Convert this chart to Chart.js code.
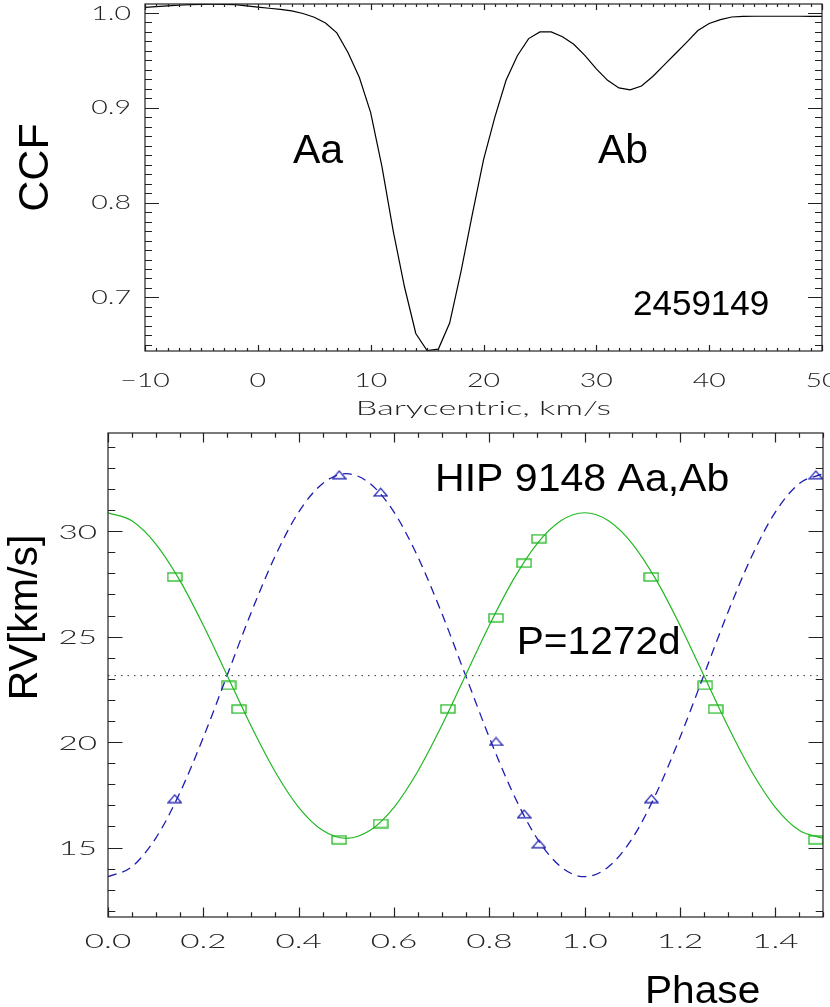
<!DOCTYPE html>
<html>
<head>
<meta charset="utf-8">
<script src="https://cdn.jsdelivr.net/npm/chart.js@4.4.1/dist/chart.umd.min.js"></script>
<style>
  body { margin: 0; background: #fff; width: 830px; height: 1007px; overflow: hidden; position: relative; }
  canvas { position: absolute; left: 0; }
  #ccfChart { top: 0; }
  #rvChart { top: 420px; }
</style>
</head>
<body>
<canvas id="ccfChart" width="830" height="420"></canvas>
<canvas id="rvChart" width="830" height="587"></canvas>
<script>
// CCF of night 2459149 (barycentric velocity, km/s)
const ccfVel = [-10, -9, -8, -7, -6, -5, -4, -3, -2, -1, 0, 1, 2, 3, 4, 5, 6, 7, 8, 9,
  10, 11, 12, 13, 14, 15, 16, 17, 18, 19, 20, 21, 22, 23, 24, 25, 26, 27, 28, 29,
  30, 31, 32, 33, 34, 35, 36, 37, 38, 39, 40, 41, 42, 43, 44, 45, 46, 47, 48, 49, 50];
const ccfVal = [1.0060, 1.0068, 1.0075, 1.0082, 1.0088, 1.0092, 1.0093, 1.0092, 1.0088, 1.0075,
  1.0062, 1.0050, 1.0038, 1.0022, 0.9995, 0.9955, 0.9895, 0.9790, 0.9580, 0.9320,
  0.8950, 0.8380, 0.7700, 0.7110, 0.6620, 0.6440, 0.6455, 0.6730, 0.7270, 0.7870,
  0.8450, 0.8900, 0.9290, 0.9550, 0.9730, 0.9800, 0.9800, 0.9750, 0.9670, 0.9550,
  0.9410, 0.9290, 0.9210, 0.9190, 0.9230, 0.9330, 0.9450, 0.9570, 0.9690, 0.9815,
  0.9890, 0.9930, 0.9958, 0.9965, 0.9966, 0.9966, 0.9966, 0.9966, 0.9966, 0.9965, 0.9965];
const ccfXTicks = [-10, 0, 10, 20, 30, 40, 50];
const ccfYTicks = [0.7, 0.8, 0.9, 1.0];

// HIP 9148 Aa,Ab orbit, P = 1272 d
const phaseGrid = [0, 0.05, 0.1, 0.15, 0.2, 0.25, 0.3, 0.35, 0.4, 0.45, 0.5,
  0.55, 0.6, 0.65, 0.7, 0.75, 0.8, 0.85, 0.9, 0.95, 1.0,
  1.05, 1.1, 1.15, 1.2, 1.25, 1.3, 1.35, 1.4, 1.45, 1.5];
const modelAa = [30.87, 30.49, 29.40, 27.69, 25.54, 23.16, 20.77, 18.62, 16.91, 15.82, 15.44,
  15.82, 16.91, 18.62, 20.77, 23.16, 25.54, 27.69, 29.40, 30.49, 30.87,
  30.49, 29.40, 27.69, 25.54, 23.16, 20.77, 18.62, 16.91, 15.82, 15.44];
const modelAb = [13.62, 14.09, 15.44, 17.56, 20.22, 23.17, 26.12, 28.78, 30.90, 32.25, 32.72,
  32.25, 30.90, 28.78, 26.12, 23.17, 20.22, 17.56, 15.44, 14.09, 13.62,
  14.09, 15.44, 17.56, 20.22, 23.17, 26.12, 28.78, 30.90, 32.25, 32.72];
const gammaRv = 23.15;
const obsPhaseAa = [0.140, 0.253, 0.275, 0.485, 0.572, 0.713, 0.814, 0.873, 0.904, 1.140, 1.253, 1.275, 1.485];
const obsRvAa = [27.83, 22.69, 21.56, 15.37, 16.14, 21.58, 25.89, 28.48, 29.64, 27.83, 22.69, 21.56, 15.37];
const obsPhaseAb = [0.140, 0.485, 0.572, 0.814, 0.873, 0.904, 1.140, 1.485];
const obsRvAb = [17.32, 32.67, 31.85, 20.03, 16.60, 15.18, 17.32, 32.67];
const phaseTicks = [0.0, 0.2, 0.4, 0.6, 0.8, 1.0, 1.2, 1.4];
const rvTicks = [15, 20, 25, 30];

const GREEN = '#22b822';
const BLUE = '#1c1cb0';
const INK = '#222';
const TICK_FONT = '300 19px Lato, "DejaVu Sans", sans-serif';
const BIG_FONT = '"Liberation Sans", Arial, Helvetica, sans-serif';

// hollow IDL-like symbols
function boxSymbol(color) {
  const c = document.createElement('canvas');
  c.width = 16; c.height = 10;
  const g = c.getContext('2d');
  g.strokeStyle = color; g.lineWidth = 1.3;
  g.strokeRect(1, 1, 14, 8);
  return c;
}
function triSymbol(color) {
  const c = document.createElement('canvas');
  c.width = 15; c.height = 10;
  const g = c.getContext('2d');
  g.strokeStyle = color; g.lineWidth = 1.3;
  g.beginPath(); g.moveTo(1, 8.8); g.lineTo(7.5, 1.2); g.lineTo(14, 8.8); g.closePath(); g.stroke();
  return c;
}

function stretchText(ctx, text, x, y, font, align, sx, rot, color) {
  ctx.save();
  ctx.translate(x, y);
  if (rot) ctx.rotate(rot);
  ctx.scale(sx || 1, 1);
  ctx.font = font;
  ctx.textAlign = align || 'left';
  ctx.textBaseline = 'alphabetic';
  ctx.fillStyle = color || '#000';
  ctx.fillText(text, 0, 0);
  ctx.restore();
}

function fmtTick(v, dec) {
  return v.toFixed(dec).replace('-', '\u2212');
}

// frame with inward ticks on all four sides, plus labels
const idlAxes = {
  id: 'idlAxes',
  afterDraw(chart, args, o) {
    const { ctx, chartArea: a, scales: { x, y } } = chart;
    ctx.save();
    ctx.strokeStyle = INK;
    ctx.lineWidth = 1.2;
    ctx.beginPath();
    const nx = Math.round((x.max - x.min) / o.xMinor);
    for (let i = 0; i <= nx + 1; i++) {
      const v = Math.ceil(x.min / o.xMinor - 1e-6) * o.xMinor + i * o.xMinor;
      if (v > x.max + 1e-9) break;
      const major = Math.abs(v / o.xMajor - Math.round(v / o.xMajor)) < 1e-6;
      const len = major ? o.xLen : o.xLen / 2;
      const px = Math.round(x.getPixelForValue(v)) + 0.5;
      ctx.moveTo(px, a.bottom); ctx.lineTo(px, a.bottom - len);
      ctx.moveTo(px, a.top); ctx.lineTo(px, a.top + len);
    }
    const ny = Math.round((y.max - y.min) / o.yMinor);
    for (let i = 0; i <= ny + 1; i++) {
      const v = Math.ceil(y.min / o.yMinor - 1e-6) * o.yMinor + i * o.yMinor;
      if (v > y.max + 1e-9) break;
      const major = Math.abs(v / o.yMajor - Math.round(v / o.yMajor)) < 1e-6;
      const len = major ? o.yLen : o.yLen / 2;
      const py = Math.round(y.getPixelForValue(v)) + 0.5;
      ctx.moveTo(a.left, py); ctx.lineTo(a.left + len, py);
      ctx.moveTo(a.right, py); ctx.lineTo(a.right - len, py);
    }
    ctx.stroke();
    ctx.strokeRect(a.left, a.top, a.right - a.left, a.bottom - a.top);
    ctx.restore();

    o.xTicks.forEach(v => {
      stretchText(ctx, fmtTick(v, o.xDec), x.getPixelForValue(v), o.xLabelY, TICK_FONT, 'center', o.sx, 0, INK);
    });
    o.yTicks.forEach(v => {
      stretchText(ctx, fmtTick(v, o.yDec), a.left - o.yLabelGap, y.getPixelForValue(v) + o.yLabelDy, TICK_FONT, 'right', o.sx, 0, INK);
    });

    (o.texts || []).forEach(t => stretchText(ctx, t.text, t.x, t.y, t.font, t.align, t.sx, t.rot, t.color));
  }
};

new Chart(document.getElementById('ccfChart'), {
  type: 'line',
  data: {
    datasets: [{
      data: ccfVel.map((v, i) => ({ x: v, y: ccfVal[i] })),
      borderColor: '#000',
      borderWidth: 1.2,
      pointRadius: 0,
      tension: 0
    }]
  },
  options: {
    responsive: false,
    animation: false,
    layout: { padding: { left: 145, right: 8, top: 4, bottom: 69 } },
    plugins: {
      legend: { display: false },
      tooltip: { enabled: false },
      idlAxes: {
        xMinor: 1, xMajor: 10, xLen: 6, yMinor: 0.01, yMajor: 0.1, yLen: 14,
        xTicks: ccfXTicks, yTicks: ccfYTicks, xDec: 0, yDec: 1,
        xLabelY: 387, yLabelGap: 14, yLabelDy: 6.6, sx: 1.5,
        texts: [
          { text: 'Barycentric, km/s', x: 483.5, y: 415, font: TICK_FONT, align: 'center', sx: 1.8, color: INK },
          { text: 'CCF', x: 48, y: 167.5, font: '43px ' + BIG_FONT, align: 'center', rot: -Math.PI / 2 },
          { text: 'Aa', x: 293, y: 163, font: '41px ' + BIG_FONT },
          { text: 'Ab', x: 598, y: 163, font: '41px ' + BIG_FONT },
          { text: '2459149', x: 633, y: 315, font: '35px ' + BIG_FONT }
        ]
      }
    },
    scales: {
      x: { type: 'linear', min: -10, max: 50, display: false },
      y: { type: 'linear', min: 0.6435, max: 1.0095, display: false }
    }
  },
  plugins: [idlAxes]
});

new Chart(document.getElementById('rvChart'), {
  type: 'scatter',
  data: {
    datasets: [
      {
        data: phaseGrid.map((p, i) => ({ x: p, y: modelAa[i] })),
        showLine: true, borderColor: GREEN, borderWidth: 1.2, pointRadius: 0,
        cubicInterpolationMode: 'monotone'
      },
      {
        data: phaseGrid.map((p, i) => ({ x: p, y: modelAb[i] })),
        showLine: true, borderColor: BLUE, borderWidth: 1.3, borderDash: [9, 6], pointRadius: 0,
        cubicInterpolationMode: 'monotone'
      },
      {
        data: [{ x: phaseGrid[0], y: gammaRv }, { x: phaseGrid[phaseGrid.length - 1], y: gammaRv }],
        showLine: true, borderColor: '#333', borderWidth: 1, borderDash: [1.5, 5], pointRadius: 0
      },
      {
        data: obsPhaseAa.map((p, i) => ({ x: p, y: obsRvAa[i] })),
        pointStyle: boxSymbol(GREEN), pointRadius: 6
      },
      {
        data: obsPhaseAb.map((p, i) => ({ x: p, y: obsRvAb[i] })),
        pointStyle: triSymbol(BLUE), pointRadius: 6
      }
    ]
  },
  options: {
    responsive: false,
    animation: false,
    layout: { padding: { left: 108, right: 2, top: 13, bottom: 90 } },
    plugins: {
      legend: { display: false },
      tooltip: { enabled: false },
      idlAxes: {
        xMinor: 0.05, xMajor: 0.2, xLen: 9.5, yMinor: 1, yMajor: 5, yLen: 14.5,
        xTicks: phaseTicks, yTicks: rvTicks, xDec: 1, yDec: 0,
        xLabelY: 528, yLabelGap: 11, yLabelDy: 7.5, sx: 1.75,
        texts: [
          { text: 'RV[km/s]', x: 36.5, y: 197.5, font: '41px ' + BIG_FONT, align: 'center', rot: -Math.PI / 2 },
          { text: 'HIP 9148 Aa,Ab', x: 435, y: 70.7, font: '38px ' + BIG_FONT, sx: 1.08 },
          { text: 'P=1272d', x: 516.7, y: 234, font: '38px ' + BIG_FONT, sx: 1.07 },
          { text: 'Phase', x: 645, y: 582.7, font: '38px ' + BIG_FONT, sx: 1.07 }
        ]
      }
    },
    scales: {
      x: { type: 'linear', min: 0, max: 1.5, display: false },
      y: { type: 'linear', min: 11.71, max: 34.65, display: false }
    }
  },
  plugins: [idlAxes]
});
</script>
</body>
</html>
